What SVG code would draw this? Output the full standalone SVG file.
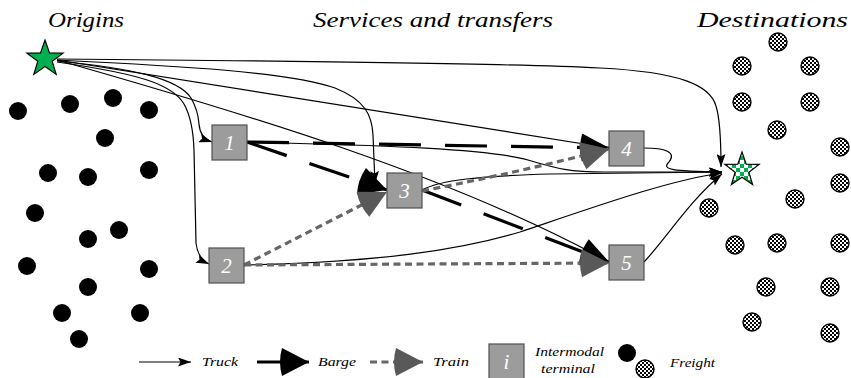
<svg xmlns="http://www.w3.org/2000/svg" width="851" height="378" viewBox="0 0 851 378">
<style>
.t{font-family:"Liberation Serif","Times New Roman",serif;font-style:italic;fill:#000}
.title{font-size:22px}
.lg{font-size:13px}
.num{font-family:"Liberation Serif","Times New Roman",serif;font-style:italic;font-size:21px;fill:#fff;text-anchor:middle}
.box{fill:#9c9c9c;stroke:#505050;stroke-width:1.2}
.truck{fill:none;stroke:#000;stroke-width:1.2;marker-end:url(#mT)}
.barge{fill:none;stroke:#000;stroke-width:3.2;stroke-dasharray:42 24;marker-end:url(#mB)}
.train{fill:none;stroke:#666;stroke-width:3.2;stroke-dasharray:7 4.5;marker-end:url(#mR)}
.od{fill:#000}
.dd{fill:url(#chk);stroke:#000;stroke-width:1.4}
</style>
<defs>
<pattern id="chk" patternUnits="userSpaceOnUse" width="4" height="4">
<rect width="4" height="4" fill="#fff"/>
<rect width="2" height="2" fill="#000"/>
<rect x="2" y="2" width="2" height="2" fill="#000"/>
</pattern>
<pattern id="gchk" patternUnits="userSpaceOnUse" width="8" height="8">
<rect width="8" height="8" fill="#fff"/>
<rect width="4" height="4" fill="#00b050"/>
<rect x="4" y="4" width="4" height="4" fill="#00b050"/>
</pattern>
<marker id="mT" markerUnits="userSpaceOnUse" viewBox="0 0 13 9" markerWidth="13" markerHeight="9" refX="13" refY="4.5" orient="auto">
<path d="M0,0 L13,4.5 L0,9 L2.5,4.5 z" fill="#000"/>
</marker>
<marker id="mB" markerUnits="userSpaceOnUse" viewBox="-3 0 31 28" markerWidth="31" markerHeight="28" refX="28" refY="14" orient="auto">
<path d="M1,0 L28,14 L1,28 Q-3,14 1,0 z" fill="#000"/>
</marker>
<marker id="mR" markerUnits="userSpaceOnUse" viewBox="-3 0 31 28" markerWidth="31" markerHeight="28" refX="28" refY="14" orient="auto">
<path d="M1,0 L28,14 L1,28 Q-3,14 1,0 z" fill="#595959"/>
</marker>
</defs>

<g id="titles">
<text class="t title" x="48" y="27" textLength="76" lengthAdjust="spacingAndGlyphs">Origins</text>
<text class="t title" x="313" y="27" textLength="240" lengthAdjust="spacingAndGlyphs">Services and transfers</text>
<text class="t title" x="697" y="27" textLength="151" lengthAdjust="spacingAndGlyphs">Destinations</text>
</g>

<g id="origin-freight">
<circle class="od" cx="18" cy="111" r="9"/>
<circle class="od" cx="70" cy="104" r="9"/>
<circle class="od" cx="113" cy="98" r="9"/>
<circle class="od" cx="149" cy="110" r="9"/>
<circle class="od" cx="105" cy="138" r="9"/>
<circle class="od" cx="48" cy="173" r="9"/>
<circle class="od" cx="88" cy="177" r="9"/>
<circle class="od" cx="149" cy="170" r="9"/>
<circle class="od" cx="35" cy="213" r="9"/>
<circle class="od" cx="88" cy="239" r="9"/>
<circle class="od" cx="119" cy="230" r="9"/>
<circle class="od" cx="27" cy="266" r="9"/>
<circle class="od" cx="149" cy="269" r="9"/>
<circle class="od" cx="88" cy="287" r="9"/>
<circle class="od" cx="62" cy="313" r="9"/>
<circle class="od" cx="140" cy="313" r="9"/>
<circle class="od" cx="79" cy="339" r="9"/>
</g>

<g id="destination-freight">
<circle class="dd" cx="778" cy="42" r="9"/>
<circle class="dd" cx="742" cy="66" r="9"/>
<circle class="dd" cx="810" cy="66" r="9"/>
<circle class="dd" cx="742" cy="102" r="9"/>
<circle class="dd" cx="810" cy="102" r="9"/>
<circle class="dd" cx="777" cy="130" r="9"/>
<circle class="dd" cx="840" cy="147" r="9"/>
<circle class="dd" cx="840" cy="183" r="9"/>
<circle class="dd" cx="795" cy="199" r="9"/>
<circle class="dd" cx="709" cy="208" r="9"/>
<circle class="dd" cx="735" cy="245" r="9"/>
<circle class="dd" cx="777" cy="243" r="9"/>
<circle class="dd" cx="840" cy="243" r="9"/>
<circle class="dd" cx="766" cy="287" r="9"/>
<circle class="dd" cx="830" cy="287" r="9"/>
<circle class="dd" cx="752" cy="322" r="9"/>
<circle class="dd" cx="830" cy="333" r="9"/>
</g>

<g id="connectors">
<path class="truck" d="M57,59 C 300,61 500,63 600,68 C 680,72 710,85 716,106 Q 721,122 721,167"/>
<path class="truck" d="M57,60 C 180,66 290,72 335,88 C 365,100 372,115 373,135 L 375,184"/>
<path class="truck" d="M57,60 L 609,148"/>
<path class="truck" d="M57,60 C 250,115 450,175 609,262"/>
<path class="truck" d="M57,61 C 130,68 178,78 191,98 Q 198,110 199,124 Q 200,138 212,142"/>
<path class="truck" d="M57,62 C 140,74 172,84 184,104 Q 193,120 194,150 L 196,243 Q 198,259 209,264"/>
<path class="truck" d="M247,142 C 350,145 480,147 528,160 C 558,169 570,172 605,172 L 722,172"/>
<path class="truck" d="M422,190 C 440,180 480,176 550,174 L 722,172"/>
<path class="truck" d="M244,265 C 380,262 460,250 520,232 C 600,205 670,180 722,173"/>
<path class="truck" d="M644,148 C 665,148 677,152 669,162 C 661,170 672,171 722,172"/>
<path class="truck" d="M644,262 C 665,240 690,200 722,174"/>
<path class="barge" d="M247,142 L 609,148"/>
<path class="barge" d="M247,142 L 387,190"/>
<path class="barge" d="M422,190 L 609,262"/>
<path class="train" d="M422,191 Q 520,172 609,149"/>
<path class="train" d="M244,265 L 609,263"/>
<path class="train" d="M244,265 L 387,192"/>
</g>

<g id="origin">
<polygon points="45,40 49.47,52.85 63.07,53.13 52.23,61.35 56.17,74.37 45,66.6 33.83,74.37 37.77,61.35 26.93,53.13 40.53,52.85" fill="#00b050" stroke="#000" stroke-width="1.2"/>
</g>
<g id="destination">
<polygon points="742,152 746.23,164.18 759.12,164.44 748.85,172.22 752.58,184.56 742,177.2 731.42,184.56 735.15,172.22 724.88,164.44 737.77,164.18" fill="url(#gchk)" stroke="#000" stroke-width="1.2"/>
</g>

<g id="terminal-1"><rect class="box" x="212" y="125" width="35" height="35"/><text class="num" x="229.5" y="150">1</text></g>
<g id="terminal-2"><rect class="box" x="209" y="248" width="35" height="35"/><text class="num" x="226.5" y="273">2</text></g>
<g id="terminal-3"><rect class="box" x="387" y="173" width="35" height="35"/><text class="num" x="404.5" y="198">3</text></g>
<g id="terminal-4"><rect class="box" x="609" y="131" width="35" height="35"/><text class="num" x="626.5" y="156">4</text></g>
<g id="terminal-5"><rect class="box" x="609" y="245" width="35" height="35"/><text class="num" x="626.5" y="270">5</text></g>

<g id="legend">
<path d="M139,362 L191,362" fill="none" stroke="#000" stroke-width="1.2" marker-end="url(#mT)"/>
<text class="t lg" x="202" y="366" textLength="36" lengthAdjust="spacingAndGlyphs">Truck</text>
<path d="M257,362 L309,362" fill="none" stroke="#000" stroke-width="3.2" marker-end="url(#mB)"/>
<text class="t lg" x="318" y="366" textLength="38" lengthAdjust="spacingAndGlyphs">Barge</text>
<path d="M370,362 L423,362" fill="none" stroke="#666" stroke-width="3.2" stroke-dasharray="7 4.5" marker-end="url(#mR)"/>
<text class="t lg" x="433" y="366" textLength="36" lengthAdjust="spacingAndGlyphs">Train</text>
<rect class="box" x="489" y="344" width="35" height="35"/>
<text class="num" x="506.5" y="369">i</text>
<text class="t lg" x="535" y="356" textLength="69" lengthAdjust="spacingAndGlyphs">Intermodal</text>
<text class="t lg" x="541" y="373" textLength="54" lengthAdjust="spacingAndGlyphs">terminal</text>
<circle class="od" cx="627" cy="353" r="9"/>
<circle class="dd" cx="645" cy="369" r="9"/>
<text class="t lg" x="670" y="367" textLength="45" lengthAdjust="spacingAndGlyphs">Freight</text>
</g>
</svg>
